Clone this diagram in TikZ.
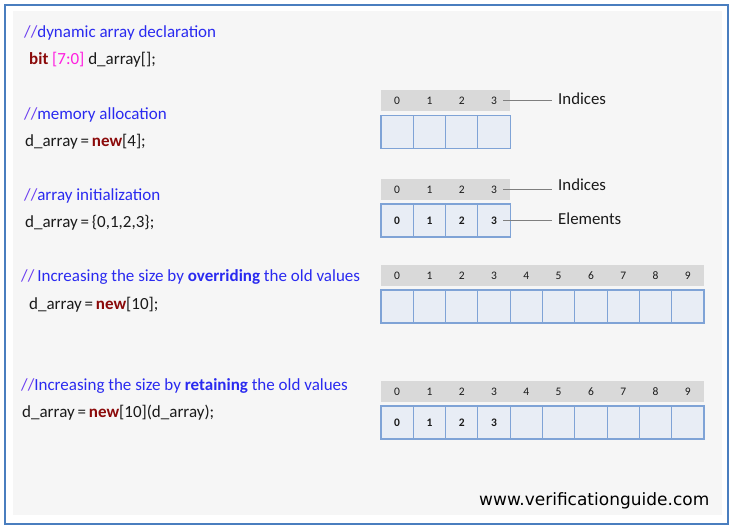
\documentclass[tikz,border=0pt]{standalone}
\usepackage{fontspec}
\setmainfont{Carlito}
\newfontfamily\webfont{DejaVu Sans}
\definecolor{framecol}{HTML}{4A7EBF}
\definecolor{bgcol}{HTML}{F6F6F6}
\definecolor{cmtcol}{HTML}{2A2AF0}
\definecolor{slashcol}{HTML}{6A3CF0}
\definecolor{kwcol}{HTML}{8B0A0A}
\definecolor{magcol}{HTML}{FF1FE0}
\definecolor{hdrcol}{HTML}{D9D9D9}
\definecolor{cellfill}{HTML}{E8EDF5}
\definecolor{celldraw}{HTML}{7FA3D6}
\definecolor{linecol}{HTML}{7F7F7F}
\definecolor{txtcol}{HTML}{1A1A1A}
\newcommand{\cmt}[1]{{\color{slashcol}//}{\color{cmtcol}#1}}
\newcommand{\kw}[1]{{\color{kwcol}\bfseries #1}}
\begin{document}
\begin{tikzpicture}[x=1pt,y=-1pt,
  code/.style={anchor=base west,inner sep=0pt,font=\fontsize{17}{20}\selectfont,text=txtcol},
  hdr/.style={fill=hdrcol,minimum width=32.3pt,minimum height=21pt,inner sep=0pt,font=\fontsize{11.5}{12}\selectfont,text=txtcol},
  cellbox/.style={fill=cellfill,draw=celldraw,line width=1.1pt,minimum width=32.3pt,minimum height=33pt,inner sep=0pt,font=\fontsize{11.5}{12}\selectfont\bfseries,text=txtcol},
  lbl/.style={anchor=west,inner sep=0pt,font=\fontsize{16.8}{19}\selectfont,text=txtcol},
  conn/.style={draw=linecol,line width=1.3pt}]
\useasboundingbox (0,0) rectangle (733,530);
\fill[white] (0,0) rectangle (733,530);
\fill[bgcol] (13,11) rectangle (722,515);
\draw[framecol,line width=2.3pt] (5,5) rectangle (728,524);

% code text
\node[code] (t1) at (24,37.5) {\cmt{dynamic array declaration}};
\node[code] (t2) at (29,64.5) {\kw{bit} {\color{magcol}[7:0]} d\_array[];};
\node[code] (t3) at (24,119) {\cmt{memory allocation}};
\node[code] (t4) at (25,146.5) {d\_array\,=\,\kw{new}[4];};
\node[code] (t5) at (24,200) {\cmt{array initialization}};
\node[code] (t6) at (25,227.5) {d\_array\,=\,\{0,1,2,3\};};
\node[code] (t7) at (21,281.5) {\cmt{\hspace{3pt}Increasing the size by \textbf{overriding} the old values}};
\node[code] (t8) at (29,309.5) {d\_array\,=\,\kw{new}[10];};
\node[code] (t9) at (21,390.5) {\cmt{Increasing the size by \textbf{retaining} the old values}};
\node[code] (t10) at (22,417.5) {d\_array\,=\,\kw{new}[10](d\_array);};

% array A
\foreach \i in {0,...,3}{
  \pgfmathsetmacro{\cx}{381+32.3*\i+16.15}
  \node[hdr] (Ah\i) at (\cx,100.5) {\i};
  \node[cellbox] (Ac\i) at (\cx,132.3) {};
}
% array B
\foreach \i in {0,...,3}{
  \pgfmathsetmacro{\cx}{381+32.3*\i+16.15}
  \node[hdr] (Bh\i) at (\cx,189.5) {\i};
  \node[cellbox] (Bc\i) at (\cx,220.5) {\i};
}
% array C
\foreach \i in {0,...,9}{
  \pgfmathsetmacro{\cx}{381+32.3*\i+16.15}
  \node[hdr] (Ch\i) at (\cx,275.5) {\i};
  \node[cellbox] (Cc\i) at (\cx,306.5) {};
}
% array D
\foreach \i in {0,...,9}{
  \pgfmathsetmacro{\cx}{381+32.3*\i+16.15}
  \node[hdr] (Dh\i) at (\cx,391.5) {\i};
  \ifnum\i<4
    \node[cellbox] (Dc\i) at (\cx,422.5) {\i};
  \else
    \node[cellbox] (Dc\i) at (\cx,422.5) {};
  \fi
}

% labels
\node[lbl] (ind1) at (558,99) {Indices};
\node[lbl] (ind2) at (558,185) {Indices};
\node[lbl] (elem) at (558,218.5) {Elements};
\coordinate (s1) at ([xshift=9pt]Ah3.center);
\coordinate (s2) at ([xshift=9pt]Bh3.center);
\coordinate (s3) at ([xshift=9pt]Bc3.center);
\draw[conn] (s1) -- ([xshift=-6pt]s1 -| ind1.west);
\draw[conn] (s2) -- ([xshift=-6pt]s2 -| ind2.west);
\draw[conn] (s3) -- ([xshift=-6pt]s3 -| elem.west);

% website
\node[anchor=base west,inner sep=0pt,font=\webfont\fontsize{17}{20}\selectfont,text=black] (web) at (479,505) {www.verificationguide.com};
\end{tikzpicture}
\end{document}
